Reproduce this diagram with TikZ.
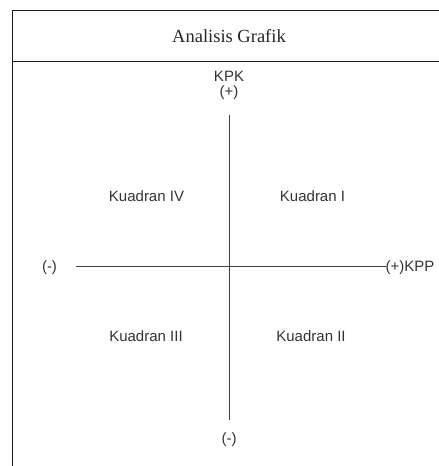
\documentclass[tikz,border=0pt]{standalone}
\usepackage{fontspec}
\setmainfont{Liberation Serif}
\setsansfont{Liberation Sans}
\usetikzlibrary{positioning}

\begin{document}
\begin{tikzpicture}[
    x=1pt, y=-1pt,
    frame/.style={line width=1.2pt, draw=black!90},
    axis/.style={line width=1pt, draw=black!75},
    lbl/.style={font=\sffamily\fontsize{15}{18}\selectfont, text=black!80, inner sep=0pt, anchor=base},
    judul/.style={font=\fontsize{18.5}{22}\selectfont, text=black!85, inner sep=0pt, anchor=base}
]
\useasboundingbox (0,0) rectangle (439,466);
% frame of the table
\draw[frame] (439,10.7) -- (12.7,10.7) -- (12.7,466);
\draw[frame] (12.7,61.7) -- (439,61.7);
\node[judul] (title) at (229,42.5) {Analisis Grafik};
% axis labels
\node[lbl] (kpk) at (229,81) {KPK};
\node[lbl] (kpkplus) at (229,96.5) {(+)};
\node[lbl] (kpkmin) at (229,443.5) {(-)};
\node[lbl] (kppmin) at (49.5,271.5) {(-)};
\node[lbl, anchor=base west] (kpp) at (385.5,271.5) {(+)KPP};
% quadrants
\node[lbl] (q4) at (146.5,201) {Kuadran IV};
\node[lbl] (q1) at (312.5,201) {Kuadran I};
\node[lbl] (q3) at (146,341) {Kuadran III};
\node[lbl] (q2) at (311,341) {Kuadran II};
% axes
\coordinate (top) at (229.3,115);
\coordinate (bottom) at (229.3,419.5);
\coordinate (left) at (76,266.5);
\coordinate (right) at (385.5,266.5);
\draw[axis] (top) -- (bottom);
\draw[axis] (left) -- (right);
\end{tikzpicture}
\end{document}
